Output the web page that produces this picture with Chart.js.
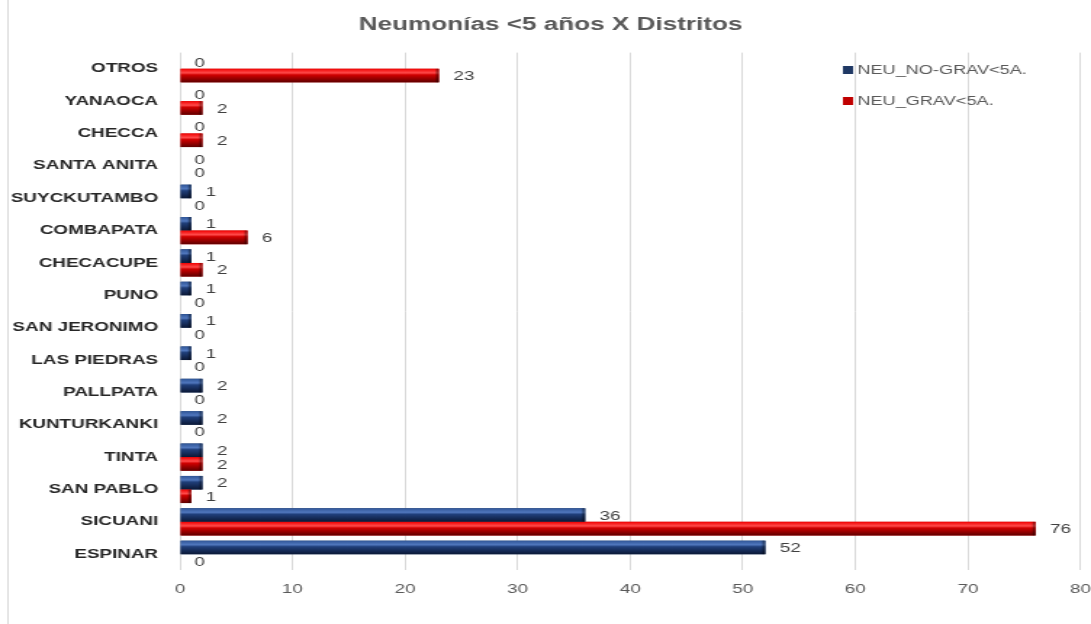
<!DOCTYPE html>
<html lang="es">
<head>
<meta charset="utf-8">
<title>Neumonías &lt;5 años X Distritos</title>
<script src="https://cdn.jsdelivr.net/npm/chart.js@4.4.1/dist/chart.umd.min.js"></script>
<style>
  html, body { margin: 0; padding: 0; background: #ffffff; overflow: hidden; }
  /* El original está estirado en horizontal, se imita con scaleX */
  #contenedor {
    width: 763px;
    height: 624px;
    transform: scaleX(1.4508);
    transform-origin: 0 0;
  }
</style>
</head>
<body>
<div id="contenedor"><canvas id="miGrafica"></canvas></div>
<script>
// Datos
const distritos = ['OTROS', 'YANAOCA', 'CHECCA', 'SANTA ANITA', 'SUYCKUTAMBO', 'COMBAPATA', 'CHECACUPE',
  'PUNO', 'SAN JERONIMO', 'LAS PIEDRAS', 'PALLPATA', 'KUNTURKANKI', 'TINTA', 'SAN PABLO', 'SICUANI', 'ESPINAR'];
const neuNoGrave = [0, 0, 0, 0, 1, 1, 1, 1, 1, 1, 2, 2, 2, 2, 36, 52];
const neuGrave = [23, 2, 2, 0, 0, 6, 2, 0, 0, 0, 0, 0, 2, 1, 76, 0];
const nombresSeries = ['NEU_NO-GRAV<5A.', 'NEU_GRAV<5A.'];
const ejeX = { min: 0, max: 80, paso: 10 };

const fuente = "'Liberation Sans', Arial, sans-serif";

// Brillo tipo "bisel" de Excel sobre cada barra
const degradados = [
  [[0, '#2f5597'], [0.3, '#5077bd'], [0.45, '#203f7a'], [1, '#0b1836']],
  [[0, '#f00000'], [0.3, '#ff4a4a'], [0.45, '#d00000'], [1, '#5e0000']]
];

const pluginBarras = {
  id: 'biselYEtiquetas',
  afterDatasetsDraw(chart) {
    const c = chart.ctx;
    chart.data.datasets.forEach((ds, i) => {
      const meta = chart.getDatasetMeta(i);
      meta.data.forEach((barra, j) => {
        const p = barra.getProps(['x', 'y', 'base', 'height'], true);
        const arriba = p.y - p.height / 2;
        const x0 = Math.min(p.base, p.x);
        const ancho = Math.abs(p.x - p.base);
        if (ancho > 0.5) {
          const g = c.createLinearGradient(0, arriba, 0, arriba + p.height);
          degradados[i].forEach(s => g.addColorStop(s[0], s[1]));
          c.save();
          c.fillStyle = g;
          c.fillRect(x0, arriba, ancho, p.height);
          // borde derecho oscuro
          c.fillStyle = 'rgba(0,0,0,0.35)';
          c.fillRect(x0 + ancho - Math.min(2, ancho / 3), arriba, Math.min(2, ancho / 3), p.height);
          c.restore();
        }
        // etiqueta con el valor
        c.save();
        c.font = '13px ' + fuente;
        c.fillStyle = '#404040';
        c.textAlign = 'left';
        c.textBaseline = 'middle';
        c.fillText(String(ds.data[j]), p.x + 10, p.y + 1);
        c.restore();
      });
    });
  },
  afterDraw(chart) {
    const c = chart.ctx;
    c.save();
    // línea del marco a la izquierda
    c.strokeStyle = '#d9d9d9';
    c.lineWidth = 1;
    c.beginPath();
    c.moveTo(5.5, 0);
    c.lineTo(5.5, chart.height);
    c.stroke();
    // leyenda dentro del área del gráfico
    c.font = '12.5px ' + fuente;
    c.textBaseline = 'middle';
    c.textAlign = 'left';
    chart.data.datasets.forEach((ds, i) => {
      const y = 70 + i * 31;
      c.fillStyle = ds.backgroundColor;
      c.fillRect(581, y - 4, 7, 8);
      c.fillStyle = '#595959';
      c.fillText(nombresSeries[i], 591, y + 1);
    });
    c.restore();
  }
};

document.addEventListener('DOMContentLoaded', function() {
  const ctx = document.getElementById('miGrafica').getContext('2d');
  const miGrafica = new Chart(ctx, {
    type: 'bar',
    data: {
      labels: distritos,
      datasets: [
        { label: nombresSeries[0], data: neuNoGrave, backgroundColor: '#1f3864' },
        { label: nombresSeries[1], data: neuGrave, backgroundColor: '#c00000' }
      ]
    },
    plugins: [pluginBarras],
    options: {
      indexAxis: 'y',
      responsive: true,
      maintainAspectRatio: false,
      animation: false,
      devicePixelRatio: 1,
      datasets: {
        bar: { categoryPercentage: 0.84, barPercentage: 1.0 }
      },
      layout: { padding: { left: 0, right: 4, top: 0, bottom: 16 } },
      plugins: {
        legend: { display: false },
        tooltip: { enabled: false },
        title: {
          display: true,
          text: 'Neumonías <5 años X Distritos',
          color: '#595959',
          font: { family: fuente, size: 18, weight: 'bold' },
          padding: { top: 14, bottom: 17 }
        }
      },
      scales: {
        x: {
          min: ejeX.min,
          max: ejeX.max,
          ticks: {
            stepSize: ejeX.paso,
            color: '#595959',
            font: { family: fuente, size: 13 },
            padding: 11
          },
          grid: { color: '#d9d9d9', drawTicks: false },
          border: { display: false }
        },
        y: {
          afterFit(escala) { escala.width = 124; },
          ticks: {
            color: '#262626',
            font: { family: fuente, size: 13, weight: 'bold' },
            padding: 15
          },
          grid: { display: false, drawTicks: false },
          border: { display: false }
        }
      }
    }
  });
});
</script>
</body>
</html>
